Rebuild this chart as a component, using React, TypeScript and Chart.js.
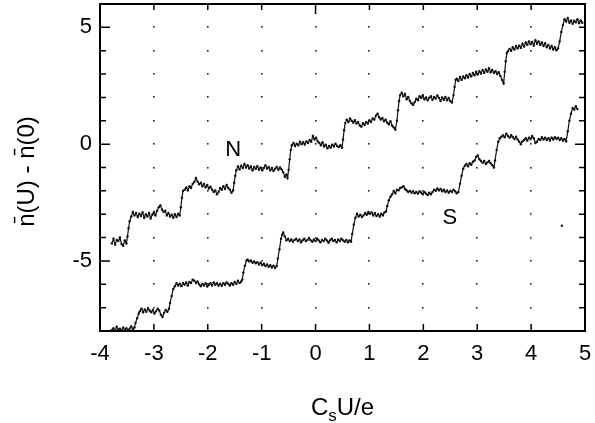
import React, { useEffect, useRef } from "react";
import { Chart, registerables } from "chart.js";

Chart.register(...registerables);

// N curve
const nX = [
  -3.78, -3.75, -3.72, -3.69, -3.66, -3.63, -3.6, -3.57, -3.54, -3.51,
  -3.49, -3.47, -3.45,
  -3.42, -3.39, -3.36, -3.33, -3.3, -3.27, -3.24, -3.21, -3.18, -3.15, -3.12, -3.09, -3.06, -3.03, -3.0, -2.97, -2.94, -2.91, -2.88, -2.85, -2.82, -2.79, -2.76, -2.73, -2.7, -2.67, -2.64, -2.61, -2.58, -2.55, -2.52,
  -2.5, -2.48, -2.46,
  -2.43, -2.4, -2.37, -2.34, -2.31, -2.28, -2.25, -2.22, -2.19, -2.16, -2.13, -2.1, -2.07, -2.04, -2.01, -1.98, -1.95, -1.92, -1.89, -1.86, -1.83, -1.8, -1.77, -1.74, -1.71, -1.68, -1.65, -1.62, -1.59, -1.56, -1.53,
  -1.51, -1.49, -1.47,
  -1.44, -1.41, -1.38, -1.35, -1.32, -1.29, -1.26, -1.23, -1.2, -1.17, -1.14, -1.11, -1.08, -1.05, -1.02, -0.99, -0.96, -0.93, -0.9, -0.87, -0.84, -0.81, -0.78, -0.75, -0.72, -0.69, -0.66, -0.63, -0.6, -0.57, -0.54, -0.52,
  -0.5, -0.48, -0.46,
  -0.44, -0.41, -0.38, -0.35, -0.32, -0.29, -0.26, -0.23, -0.2, -0.17, -0.14, -0.11, -0.08, -0.05, -0.02, 0.01, 0.04, 0.07, 0.1, 0.13, 0.16, 0.19, 0.22, 0.25, 0.28, 0.31, 0.34, 0.37, 0.4, 0.43, 0.46, 0.49,
  0.51, 0.53, 0.55,
  0.58, 0.61, 0.64, 0.67, 0.7, 0.73, 0.76, 0.79, 0.82, 0.85, 0.88, 0.91, 0.94, 0.97, 1.0, 1.03, 1.06, 1.09, 1.12, 1.15, 1.18, 1.21, 1.24, 1.27, 1.3, 1.33, 1.36, 1.39, 1.42, 1.45, 1.48,
  1.51, 1.53, 1.55,
  1.57, 1.6, 1.63, 1.66, 1.69, 1.72, 1.75, 1.78, 1.81, 1.84, 1.87, 1.9, 1.93, 1.96, 1.99, 2.02, 2.05, 2.08, 2.11, 2.14, 2.17, 2.2, 2.23, 2.26, 2.29, 2.32, 2.35, 2.38, 2.41, 2.44, 2.47, 2.5, 2.53,
  2.56, 2.58, 2.6,
  2.62, 2.65, 2.68, 2.71, 2.74, 2.77, 2.8, 2.83, 2.86, 2.89, 2.92, 2.95, 2.98, 3.01, 3.04, 3.07, 3.1, 3.13, 3.16, 3.19, 3.22, 3.25, 3.28, 3.31, 3.34, 3.37, 3.4, 3.43, 3.46, 3.49,
  3.51, 3.53, 3.55,
  3.57, 3.6, 3.63, 3.66, 3.69, 3.72, 3.75, 3.78, 3.81, 3.84, 3.87, 3.9, 3.93, 3.96, 3.99, 4.02, 4.05, 4.08, 4.11, 4.14, 4.17, 4.2, 4.23, 4.26, 4.29, 4.32, 4.35, 4.38, 4.41, 4.44, 4.47, 4.5,
  4.53, 4.56, 4.59,
  4.62, 4.65, 4.68, 4.71, 4.74, 4.77, 4.8, 4.83, 4.86, 4.89, 4.92, 4.95,
];
const nY = [
  -4.25, -4.05, -4.3, -4.1, -4.15, -4.0, -4.28, -4.35, -4.12, -4.25,
  -3.95, -3.6, -3.3,
  -3.1, -2.9, -3.05, -2.95, -3.12, -2.98, -3.08, -2.92, -3.15, -3.0, -3.1, -2.95, -3.18, -3.02, -2.9, -3.05, -2.85, -2.7, -2.62, -2.8, -2.9, -2.85, -3.05, -2.95, -3.1, -3.02, -3.15, -3.0, -3.12, -2.98, -3.05,
  -2.7, -2.3, -2.0,
  -1.95, -1.85, -1.98, -1.8, -1.88, -1.7, -1.62, -1.45, -1.6, -1.72, -1.65, -1.8, -1.7, -1.85, -1.75, -1.9, -1.82, -1.95, -2.05, -1.98, -2.15, -2.05, -1.88, -1.95, -1.8, -1.92, -1.75, -1.88, -1.95, -2.08, -1.98,
  -1.65, -1.35, -1.12,
  -0.95, -1.08, -0.92, -1.02, -0.85, -1.0, -0.9, -1.05, -0.95, -1.12, -0.98, -1.06, -0.94, -1.1, -1.0, -1.12, -1.02, -0.9, -1.05, -0.98, -1.12, -1.02, -1.15, -1.05, -0.98, -1.1, -1.0, -1.08, -1.2, -1.4, -1.3, -1.45,
  -1.1, -0.65, -0.25,
  -0.05, 0.05, -0.08, 0.02, -0.05, 0.1, 0.0, 0.08, -0.02, 0.12, 0.05, 0.18, 0.1, 0.35, 0.2, 0.28, 0.12, 0.05, -0.05, 0.08, -0.1, -0.02, -0.18, -0.08, -0.15, -0.02, -0.1, 0.02, -0.08, -0.12, -0.05, -0.15,
  0.2, 0.6, 0.9,
  1.05, 0.95, 1.1, 1.0, 0.92, 1.02, 0.88, 0.95, 0.8, 0.75, 0.9, 0.82, 0.95, 0.88, 1.02, 0.95, 1.1, 1.05, 1.22, 1.3, 1.15, 1.05, 1.12, 0.98, 1.05, 0.92, 0.85, 0.98, 0.8, 0.72, 0.62,
  1.0, 1.45, 1.85,
  2.1, 2.2, 2.05, 2.15, 1.92, 2.02, 1.85, 1.75, 1.68, 1.8, 1.95, 1.88, 2.05, 1.98, 2.1, 1.92, 2.0, 1.88, 1.98, 2.05, 1.9, 2.02, 1.95, 2.08, 1.98, 1.85, 2.0, 1.9, 2.02, 1.88, 1.98, 1.85, 1.78,
  2.1, 2.45, 2.75,
  2.8, 2.7, 2.88, 2.75, 2.9, 2.82, 2.95, 2.85, 3.0, 2.9, 3.05, 2.95, 3.1, 2.98, 3.12, 3.02, 3.18, 3.05, 3.2, 3.1, 3.25, 3.08, 3.18, 3.05, 3.12, 3.0, 3.08, 2.92, 2.75, 2.6,
  3.1, 3.55, 3.9,
  3.98, 4.08, 4.0, 4.15, 4.05, 4.2, 4.1, 4.22, 4.12, 4.3, 4.18, 4.35, 4.25, 4.4, 4.28, 4.38, 4.22, 4.45, 4.3, 4.4, 4.25, 4.35, 4.2, 4.32, 4.15, 4.25, 4.1, 4.2, 4.05, 4.15, 4.02, 4.1,
  4.4, 4.8, 5.1,
  5.35, 5.25, 5.4, 5.2, 5.3, 5.15, 5.28, 5.22, 5.35, 5.18, 5.3, 5.2,
];

// S curve
const sX = [
  -3.78, -3.75, -3.72, -3.69, -3.66, -3.63, -3.6, -3.57, -3.54, -3.51, -3.48, -3.45, -3.42, -3.39, -3.36,
  -3.34, -3.31, -3.28,
  -3.26, -3.23, -3.2, -3.17, -3.14, -3.11, -3.08, -3.05, -3.02, -2.99, -2.96, -2.93, -2.9, -2.87, -2.84, -2.81, -2.78, -2.75, -2.72,
  -2.7, -2.67, -2.64,
  -2.61, -2.58, -2.55, -2.52, -2.49, -2.46, -2.43, -2.4, -2.37, -2.34, -2.31, -2.28, -2.25, -2.22, -2.19, -2.16, -2.13, -2.1, -2.07, -2.04, -2.01, -1.98, -1.95, -1.92, -1.89, -1.86, -1.83, -1.8, -1.77, -1.74, -1.71, -1.68, -1.65, -1.62, -1.59, -1.56, -1.53, -1.5, -1.47, -1.44, -1.41, -1.38, -1.36,
  -1.34, -1.31, -1.28,
  -1.26, -1.23, -1.2, -1.17, -1.14, -1.11, -1.08, -1.05, -1.02, -0.99, -0.96, -0.93, -0.9, -0.87, -0.84, -0.81, -0.78, -0.75, -0.72,
  -0.7, -0.67, -0.64,
  -0.62, -0.6, -0.57, -0.54, -0.51, -0.48, -0.45, -0.42, -0.39, -0.36, -0.33, -0.3, -0.27, -0.24, -0.21, -0.18, -0.15, -0.12, -0.09, -0.06, -0.03, 0.0, 0.03, 0.06, 0.09, 0.12, 0.15, 0.18, 0.21, 0.24, 0.27, 0.3, 0.33, 0.36, 0.39, 0.42, 0.45, 0.48, 0.51, 0.54, 0.57, 0.6, 0.63, 0.66,
  0.68, 0.71, 0.74,
  0.77, 0.8, 0.83, 0.86, 0.89, 0.92, 0.95, 0.98, 1.01, 1.04, 1.07, 1.1, 1.13, 1.16, 1.19, 1.22, 1.25, 1.28, 1.31,
  1.33, 1.36, 1.39,
  1.42, 1.45, 1.48, 1.51, 1.54, 1.57, 1.6, 1.63, 1.66, 1.69, 1.72, 1.75, 1.78, 1.81, 1.84, 1.87, 1.9, 1.93, 1.96, 1.99, 2.02, 2.05, 2.08, 2.11, 2.14, 2.17, 2.2, 2.23, 2.26, 2.29, 2.32, 2.35, 2.38, 2.41, 2.44, 2.47, 2.5, 2.53, 2.56, 2.59, 2.62, 2.65,
  2.68, 2.71, 2.74,
  2.77, 2.8, 2.83, 2.86, 2.89, 2.92, 2.95, 2.98, 3.01, 3.04, 3.07, 3.1, 3.13, 3.16, 3.19, 3.22, 3.25, 3.28, 3.31,
  3.33, 3.36, 3.39,
  3.42, 3.45, 3.48, 3.51, 3.54, 3.57, 3.6, 3.63, 3.66, 3.69, 3.72, 3.75, 3.78, 3.81, 3.84, 3.87, 3.9, 3.93, 3.96, 3.99, 4.02, 4.05, 4.08, 4.11, 4.14, 4.17, 4.2, 4.23, 4.26, 4.29, 4.32, 4.35, 4.38, 4.41, 4.44, 4.47, 4.5, 4.53, 4.56, 4.59, 4.62, 4.65,
  4.68, 4.71, 4.74,
  4.77, 4.8, 4.83, 4.86,
];
const sY = [
  -7.95, -7.88, -8.0, -7.82, -7.95, -7.9, -7.98, -7.85, -7.95, -7.88, -7.98, -7.9, -7.8, -7.92, -7.85,
  -7.65, -7.45, -7.25,
  -7.15, -7.05, -7.2, -7.08, -7.18, -7.02, -7.12, -7.2, -7.1, -7.25, -7.15, -7.05, -7.12, -7.3, -7.4, -7.22, -7.1, -7.18, -7.05,
  -6.8, -6.5, -6.2,
  -6.08, -5.95, -6.05, -5.98, -6.08, -5.95, -6.02, -5.92, -6.05, -5.9, -5.95, -5.8, -5.85, -5.95, -5.88, -6.0, -6.08, -5.98, -6.05, -5.95, -6.1, -6.02, -5.95, -6.05, -5.92, -6.02, -5.95, -6.05, -5.98, -6.06, -5.95, -6.02, -5.92, -5.98, -6.05, -5.95, -6.02, -5.9, -5.98, -5.85, -5.95, -5.88, -5.8,
  -5.5, -5.2, -4.98,
  -4.95, -5.02, -4.98, -5.08, -5.02, -5.1, -5.05, -5.15, -5.08, -5.18, -5.12, -5.22, -5.15, -5.25, -5.18, -5.28, -5.2, -5.3, -5.22,
  -4.9, -4.5, -4.05,
  -3.88, -3.78, -3.95, -4.12, -4.05, -4.15, -4.08, -4.18, -4.1, -4.05, -4.15, -4.08, -4.2, -4.12, -4.05, -4.15, -4.1, -4.02, -4.12, -4.18, -4.08, -4.15, -4.05, -4.12, -4.2, -4.1, -4.15, -4.05, -4.12, -4.22, -4.12, -4.05, -4.15, -4.1, -4.2, -4.08, -4.15, -4.05, -4.12, -4.18, -4.1, -4.2, -4.12, -4.18,
  -3.85, -3.45, -3.15,
  -2.98, -3.1, -3.02, -3.12, -3.05, -2.95, -3.02, -2.9, -2.98, -2.92, -3.05, -2.95, -3.08, -3.0, -3.1, -2.98, -3.05, -2.92, -2.88,
  -2.65, -2.4, -2.25,
  -2.15, -2.0, -2.1, -1.95, -1.98, -1.88, -1.85, -1.8, -1.92, -1.98, -2.05, -2.0, -2.08, -2.02, -2.1, -2.05, -2.12, -2.02, -2.08, -2.15, -2.05, -2.12, -2.18, -2.08, -2.15, -2.05, -1.95, -2.0, -1.9, -1.98, -1.92, -2.02, -1.95, -2.05, -1.98, -2.08, -2.0, -2.05, -1.95, -2.02, -2.1, -2.05,
  -1.7, -1.35, -1.05,
  -0.92, -0.85, -0.95, -0.82, -0.88, -0.75, -0.7, -0.55, -0.48, -0.65, -0.72, -0.8, -0.72, -0.85, -0.78, -0.72, -0.82, -0.9, -1.0,
  -0.7, -0.25, 0.1,
  0.25, 0.32, 0.38, 0.3, 0.45, 0.35, 0.28, 0.38, 0.3, 0.22, 0.32, 0.2, 0.1, 0.0, 0.12, 0.18, 0.25, 0.15, 0.28, 0.22, 0.35, 0.25, 0.05, 0.1, 0.22, 0.18, 0.3, 0.2, 0.28, 0.18, 0.25, 0.15, 0.28, 0.2, 0.3, 0.22, 0.28, 0.18, 0.25, 0.15, 0.22, 0.12,
  0.55, 1.0, 1.3,
  1.55, 1.48, 1.62, 1.5,
];

// isolated stray point
const strayX = [4.57];
const strayY = [-3.49];

const curveLabels = ["N", "S"];
const labelX = [-1.53, 2.49];
const labelY = [-0.24, -3.15];

const xTicks = [-4, -3, -2, -1, 0, 1, 2, 3, 4, 5];
const yLabeled = [-5, 0, 5];

const FONT = "'Liberation Sans', Arial, Helvetica, sans-serif";

const decorPlugin = {
  id: "decor",
  beforeDatasetsDraw(chart: any) {
    const { ctx, scales } = chart;
    const xs = scales.x;
    const ys = scales.y;
    ctx.save();
    ctx.fillStyle = "#222";
    for (let i = -3; i <= 4; i++) {
      for (let j = -7; j <= 5; j++) {
        const px = xs.getPixelForValue(i);
        const py = ys.getPixelForValue(j);
        ctx.fillRect(Math.round(px) - 1, Math.round(py) - 1, 1.6, 1.6);
      }
    }
    ctx.restore();
  },
  afterDatasetsDraw(chart: any) {
    const { ctx, chartArea: a, scales } = chart;
    const xs = scales.x;
    const ys = scales.y;
    ctx.save();
    ctx.strokeStyle = "#000";
    ctx.lineWidth = 2;
    ctx.strokeRect(a.left, a.top, a.right - a.left, a.bottom - a.top);
    ctx.lineWidth = 1.5;
    ctx.beginPath();
    xTicks.forEach((v) => {
      const px = xs.getPixelForValue(v);
      ctx.moveTo(px, a.bottom);
      ctx.lineTo(px, a.bottom - 7);
      const tl = v === 0 ? 10 : 6;
      ctx.moveTo(px, a.top);
      ctx.lineTo(px, a.top + tl);
    });
    for (let j = -8; j <= 6; j++) {
      const py = ys.getPixelForValue(j);
      const tl = j % 5 === 0 ? 10 : 6;
      ctx.moveTo(a.left, py);
      ctx.lineTo(a.left + tl, py);
      const tr = j === 0 ? 10 : 6;
      ctx.moveTo(a.right, py);
      ctx.lineTo(a.right - tr, py);
    }
    ctx.stroke();

    // curve labels
    ctx.fillStyle = "#000";
    ctx.font = `22px ${FONT}`;
    ctx.textAlign = "center";
    ctx.textBaseline = "middle";
    curveLabels.forEach((t, i) => {
      ctx.fillText(t, xs.getPixelForValue(labelX[i]), ys.getPixelForValue(labelY[i]));
    });

    // x title with subscript
    const cx = (a.left + a.right) / 2;
    const base = 415;
    ctx.textBaseline = "alphabetic";
    ctx.textAlign = "left";
    ctx.font = `24px ${FONT}`;
    const wC = ctx.measureText("C").width;
    const wU = ctx.measureText("U/e").width;
    ctx.font = `17px ${FONT}`;
    const wS = ctx.measureText("s").width;
    const total = wC + wS + wU;
    const x0 = cx - total / 2;
    ctx.font = `24px ${FONT}`;
    ctx.fillText("C", x0, base);
    ctx.font = `17px ${FONT}`;
    ctx.fillText("s", x0 + wC, base + 6);
    ctx.font = `24px ${FONT}`;
    ctx.fillText("U/e", x0 + wC + wS, base);

    // y title rotated
    ctx.save();
    ctx.translate(27, (a.top + a.bottom) / 2 + 4);
    ctx.rotate(-Math.PI / 2);
    ctx.textAlign = "center";
    ctx.textBaseline = "middle";
    ctx.font = `24px ${FONT}`;
    ctx.fillText("n\u0304(U) - n\u0304(0)", 0, 0);
    ctx.restore();
    ctx.restore();
  },
};

export default function App() {
  const ref = useRef<HTMLCanvasElement | null>(null);
  useEffect(() => {
    document.body.style.margin = "0";
    const toPts = (xa: number[], ya: number[]) => xa.map((x, i) => ({ x, y: ya[i] }));
    const lineStyle = {
      showLine: true,
      borderColor: "#111",
      borderWidth: 1.2,
      pointRadius: 1.2,
      pointBackgroundColor: "#111",
      pointBorderWidth: 0,
    };
    const chart = new Chart(ref.current as HTMLCanvasElement, {
      type: "scatter",
      data: {
        datasets: [
          { label: "N", data: toPts(nX, nY), ...lineStyle },
          { label: "S", data: toPts(sX, sY), ...lineStyle },
          {
            label: "stray",
            data: toPts(strayX, strayY),
            showLine: false,
            pointRadius: 1.2,
            pointBackgroundColor: "#111",
            pointBorderWidth: 0,
          },
        ],
      },
      options: {
        animation: false,
        responsive: true,
        maintainAspectRatio: false,
        layout: { padding: { left: 0, top: 4, right: 10, bottom: 0 } },
        plugins: { legend: { display: false }, tooltip: { enabled: false } },
        scales: {
          x: {
            type: "linear",
            min: -4,
            max: 5,
            grid: { display: false, drawTicks: false },
            border: { display: false },
            ticks: {
              stepSize: 1,
              autoSkip: false,
              maxRotation: 0,
              padding: 10,
              color: "#000",
              font: { family: FONT, size: 22 },
              callback: (v: any) => String(v),
            },
            afterFit: (s: any) => {
              s.height = 92;
              s.paddingLeft = 0;
              s.paddingRight = 0;
            },
          },
          y: {
            type: "linear",
            min: -8,
            max: 6,
            grid: { display: false, drawTicks: false },
            border: { display: false },
            ticks: {
              stepSize: 1,
              autoSkip: false,
              padding: 8,
              color: "#000",
              font: { family: FONT, size: 22 },
              callback: (v: any) => (yLabeled.includes(v) ? String(v) : ""),
            },
            afterFit: (s: any) => {
              s.width = 100;
              s.paddingTop = 0;
              s.paddingBottom = 0;
            },
          },
        },
      },
      plugins: [decorPlugin],
    });
    return () => chart.destroy();
  }, []);
  return (
    <div style={{ position: "fixed", left: 0, top: 0, width: 595, height: 423, background: "#fff" }}>
      <canvas ref={ref} />
    </div>
  );
}
